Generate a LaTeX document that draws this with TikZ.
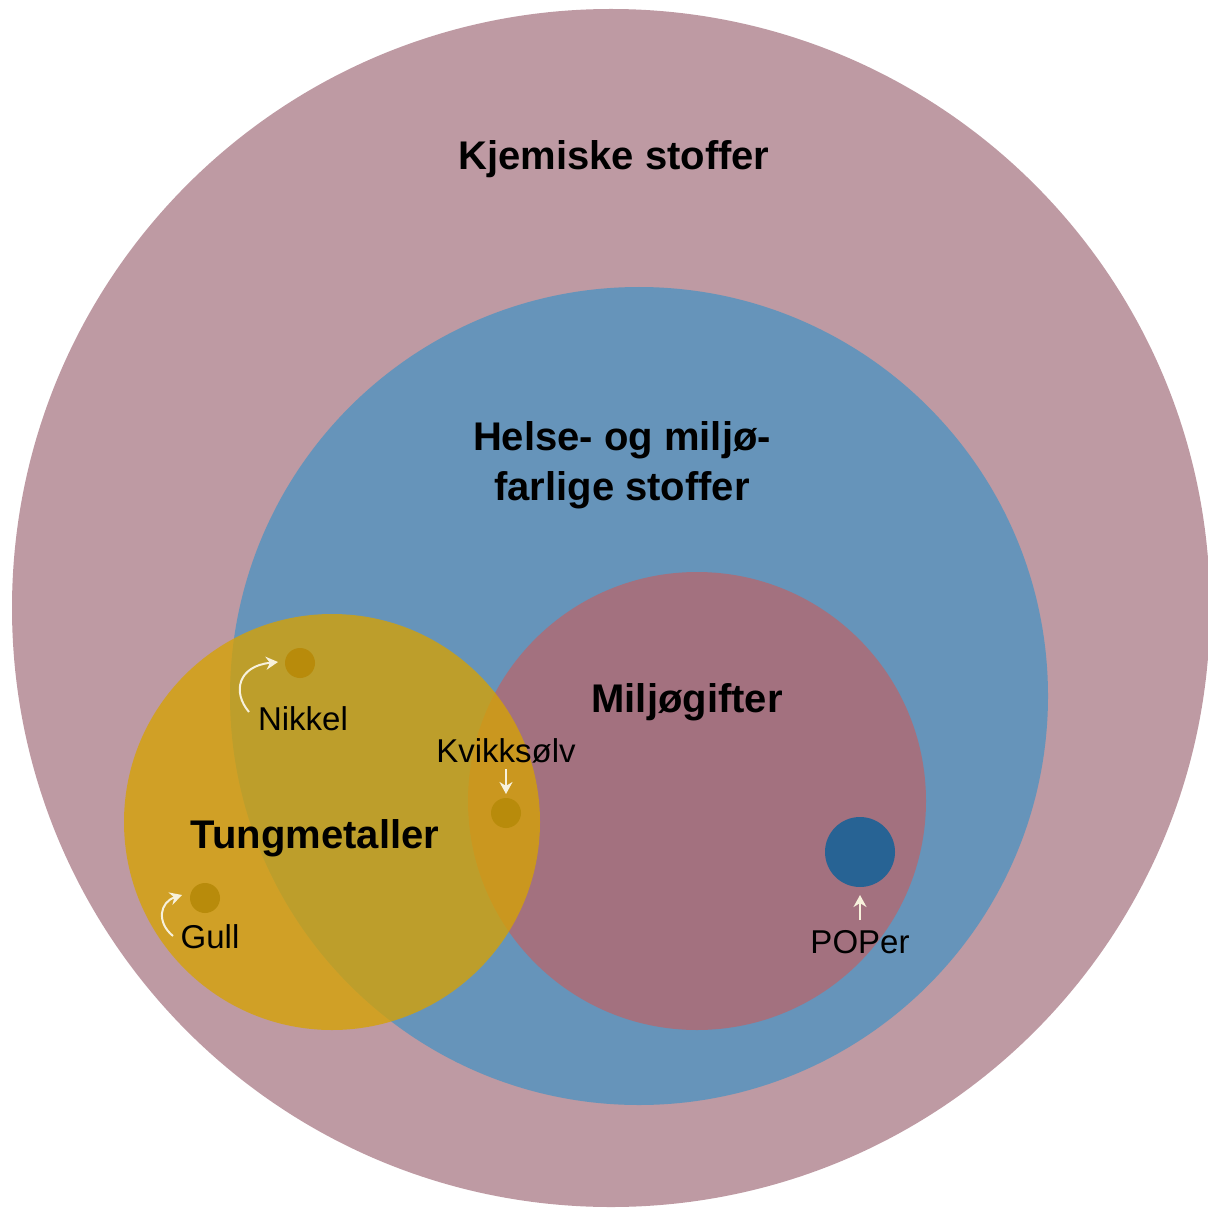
\documentclass[tikz,border=0pt]{standalone}
\usepackage{fontspec}
\setmainfont{Liberation Sans}
\usetikzlibrary{arrows.meta}
\definecolor{outerpink}{HTML}{BE9AA3}
\definecolor{healthblue}{HTML}{6694BA}
\definecolor{toxicrose}{HTML}{A3717F}
\definecolor{metalyellow}{HTML}{D6A204}
\definecolor{dotgold}{HTML}{B88B0B}
\definecolor{popblue}{HTML}{276394}
\definecolor{arrowcream}{HTML}{F7F1DC}
\tikzset{
  setlabel/.style={font=\fontsize{20}{24}\selectfont\bfseries, inner sep=0pt, anchor=base},
  itemlabel/.style={font=\fontsize{16.5}{19}\selectfont, inner sep=0pt, anchor=base},
  marker/.style={-{Stealth[length=6pt,width=6.5pt]}, draw=arrowcream, line width=1pt},
  metaldot/.style={circle, fill=dotgold, minimum size=15pt, inner sep=0pt},
}
\begin{document}
\begin{tikzpicture}[x=0.5pt,y=-0.5pt]
\useasboundingbox (0,0) rectangle (1207,1208);
% nested sets
\fill[outerpink] (611,608) circle [radius=599];
\fill[healthblue] (639,696) circle [radius=409];
\fill[toxicrose] (697,801) circle [radius=229];
\fill[metalyellow, fill opacity=0.78] (332,822) circle [radius=208];
% members
\node[metaldot] (nikkeldot) at (300,663) {};
\node[metaldot] (gulldot) at (205,898) {};
\node[metaldot] (kvikkdot) at (506,813) {};
\node[circle, fill=popblue, minimum size=35pt, inner sep=0pt] (popdot) at (860,852) {};
% set labels
\node[setlabel] (kjem) at (614,170) {Kjemiske stoffer};
\node[setlabel] (helse1) at (622,450) {Helse- og miljø-};
\node[setlabel] (helse2) at (622,500) {farlige stoffer};
\node[setlabel] (miljo) at (687,712) {Miljøgifter};
\node[setlabel] (tung) at (315,848) {Tungmetaller};
% item labels
\node[itemlabel] (nikkel) at (303,730) {Nikkel};
\node[itemlabel] (kvikk) at (506,762) {Kvikksølv};
\node[itemlabel] (gull) at (210,948) {Gull};
\node[itemlabel] (poper) at (860,953) {POPer};
% pointers
\coordinate (nikkelfrom) at (249,712);
\coordinate (nikkelto) at (278,662);
\draw[marker] (nikkelfrom) .. controls (232,692) and (238,666) .. (nikkelto);
\coordinate (gullfrom) at (173,936);
\coordinate (gullto) at (182,895);
\draw[marker] (gullfrom) .. controls (156,922) and (160,902) .. (gullto);
\coordinate (kvikkfrom) at (506,769);
\coordinate (kvikkto) at (506,794);
\draw[marker] (kvikkfrom) -- (kvikkto);
\coordinate (popfrom) at (860,920);
\coordinate (popto) at (860,895);
\draw[marker] (popfrom) -- (popto);
\end{tikzpicture}
\end{document}
